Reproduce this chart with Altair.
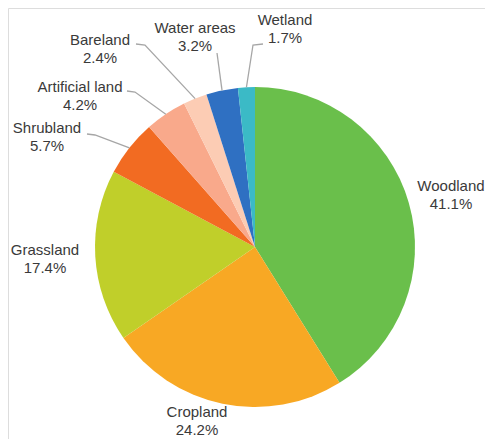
import math
import altair as alt
import pandas as pd

# ---- data ----
categories = ["Woodland", "Cropland", "Grassland", "Shrubland",
              "Artificial land", "Bareland", "Water areas", "Wetland"]
shares = [41.1, 24.2, 17.4, 5.7, 4.2, 2.4, 3.2, 1.7]
colors = ["#6abf4b", "#f8a824", "#c0cf2a", "#f26b22",
          "#f9a98b", "#fcccb4", "#2f70c2", "#3bbac6"]

# ---- layout (pixel positions in chart coordinates) ----
W, H = 477, 431
CX, CY, R = 247, 239, 160
label_x = [443, 189, 37, 39, 72, 92, 187, 277]
label_y = [178, 404, 242, 120, 79, 32, 20, 12]
# leader elbows / ends for small slices
leader_pts = {
    "Shrubland": [(87, 127), (79, 126)],
    "Artificial land": [(127, 84), (119, 83)],
    "Bareland": [(137, 37), (128, 36)],
    "Water areas": [(209, 45)],
    "Wetland": [(245, 37), (255, 36)],
}

total = sum(shares)
df = pd.DataFrame({
    "category": categories,
    "value": shares,
    "idx": list(range(len(categories))),
    "pct": [f"{v:.1f}%" for v in shares],
    "lx": label_x,
    "ly": label_y,
})

# leader lines start at the slice's mid-angle on the rim
rows = []
cum = 0.0
for c, v in zip(categories, shares):
    mid = (cum + v / 2) / total * 2 * math.pi
    cum += v
    if c in leader_pts:
        pts = [(CX + R * math.sin(mid), CY - R * math.cos(mid))] + leader_pts[c]
        for k, (px, py) in enumerate(pts):
            rows.append({"category": c, "k": k, "px": px, "py": py})
lines = pd.DataFrame(rows)

arcs = alt.Chart(df).mark_arc(outerRadius=R).encode(
    theta=alt.Theta("value:Q", stack=True,
                    scale=alt.Scale(domain=[0, total], nice=False)),
    color=alt.Color("category:N", scale=alt.Scale(domain=categories, range=colors),
                    legend=None),
    order=alt.Order("idx:Q"),
    x=alt.value(CX),
    y=alt.value(CY),
)

leaders = alt.Chart(lines).mark_line(color="#a6a6a6", strokeWidth=1.3).encode(
    x=alt.X("px:Q", scale=None),
    y=alt.Y("py:Q", scale=None),
    detail="category:N",
    order="k:Q",
)

txt_style = dict(font="Liberation Sans", fontSize=15, color="#3a3a3a",
                 align="center", baseline="middle")
names = alt.Chart(df).mark_text(**txt_style).encode(
    x=alt.X("lx:Q", scale=None), y=alt.Y("ly:Q", scale=None), text="category:N")
pcts = alt.Chart(df).mark_text(dy=18, **txt_style).encode(
    x=alt.X("lx:Q", scale=None), y=alt.Y("ly:Q", scale=None), text="pct:N")

chart = alt.layer(arcs, leaders, names, pcts).properties(
    width=W, height=H, autosize=alt.AutoSizeParams(type="none"), padding=0
).configure_view(stroke=None).configure(background="white")

chart.save("out.html", embed_options={"renderer": "svg", "actions": False})
